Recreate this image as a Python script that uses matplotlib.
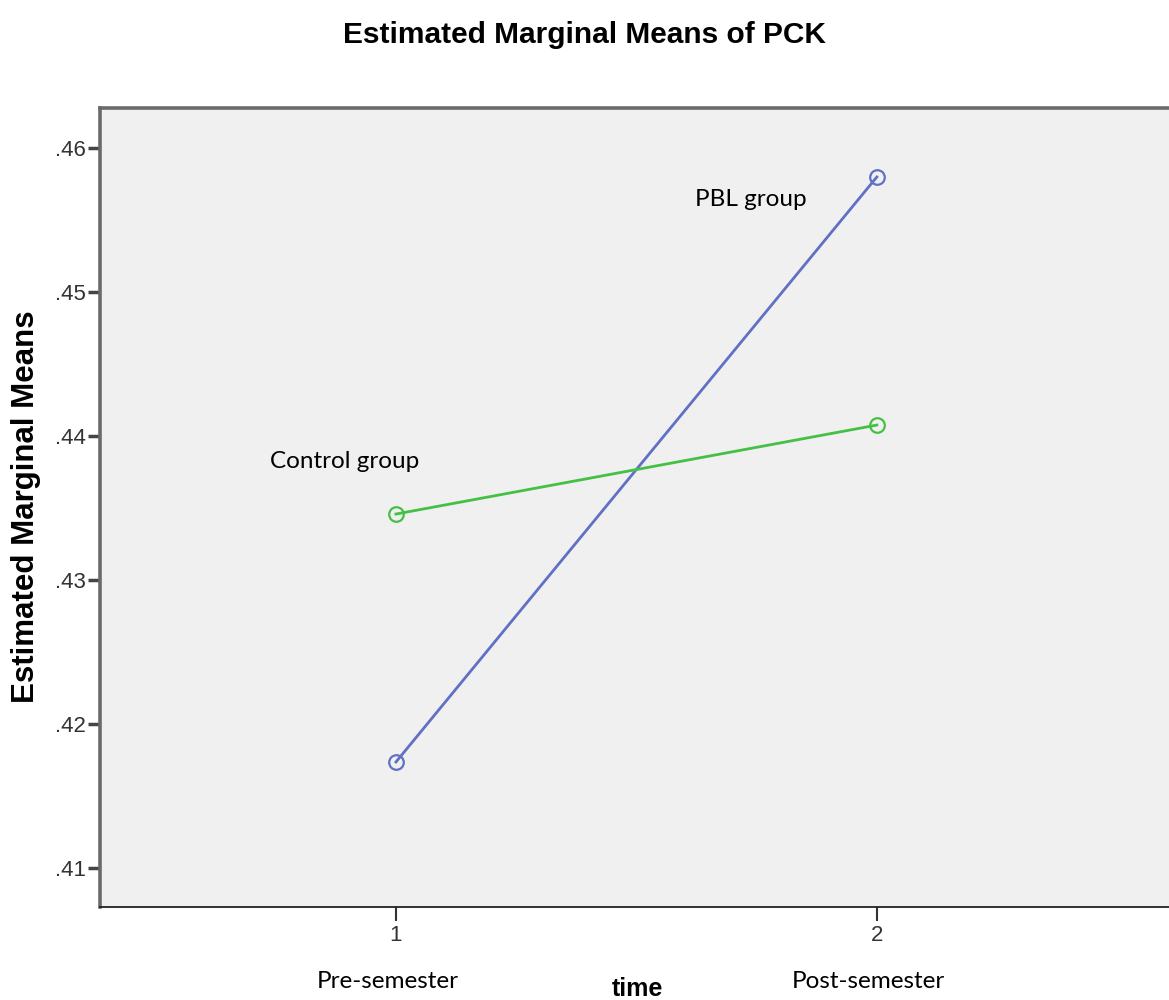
import matplotlib
matplotlib.use("Agg")
import matplotlib.pyplot as plt

times = [1, 2]
time_labels = ["Pre-semester", "Post-semester"]
pbl_means = [0.41736, 0.45799]
control_means = [0.43458, 0.44076]
y_ticks = [0.41, 0.42, 0.43, 0.44, 0.45, 0.46]

fig = plt.figure(figsize=(11.69, 10), dpi=100)
ax = fig.add_axes([100 / 1169, 93 / 1000, 1075 / 1169, 799 / 1000])
ax.set_facecolor("#f0f0f0")

ax.plot(times, pbl_means, color="#6070c4", lw=2, marker="o", markersize=10.5,
        markerfacecolor="none", markeredgewidth=1.6)
ax.plot(times, control_means, color="#44c044", lw=2, marker="o", markersize=10.5,
        markerfacecolor="none", markeredgewidth=1.6)

ax.set_xlim(0.3846, 2.62)
ax.set_ylim(0.40729, 0.46278)
ax.set_xticks(times)
ax.set_xticklabels([str(t) for t in times], fontsize=16, family="Liberation Sans", color="#333333")
ax.set_yticks(y_ticks)
ax.set_yticklabels(["." + f"{v:.2f}".split(".")[1] for v in y_ticks],
                   fontsize=16, family="Liberation Sans", color="#333333")
ax.tick_params(axis="y", direction="out", length=8.6, width=2.5, color="#444444", pad=1.5)
ax.tick_params(axis="x", direction="out", length=10, width=1.5, color="#333333", pad=3)

for side in ["left", "top"]:
    ax.spines[side].set_linewidth(2.6)
    ax.spines[side].set_color("#6a6a6a")
ax.spines["bottom"].set_linewidth(1.3)
ax.spines["bottom"].set_color("#222222")
ax.spines["right"].set_visible(False)

ax.text(1.738, 0.45646, "PBL group", fontsize=17.5, family="Lato", ha="center", va="center")
ax.text(0.894, 0.43826, "Control group", fontsize=17.5, family="Lato", ha="center", va="center")

for t, lab in zip(times, time_labels):
    ax.annotate(lab, xy=(t, 0), xycoords=("data", "axes fraction"), xytext=(-8, -75),
                textcoords="offset pixels", fontsize=17.5, family="Lato", ha="center", va="center")

ax.set_xlabel("time", fontsize=18, fontweight="bold", family="Liberation Sans", va="center")
ax.xaxis.set_label_coords((637 - 100) / 1075, (907 - 989) / 799)
ax.set_ylabel("Estimated Marginal Means", fontsize=22.5, fontweight="bold",
              family="Liberation Sans")
ax.yaxis.set_label_coords((41 - 100) / 1075, (907 - 507) / 799)

fig.suptitle("Estimated Marginal Means of PCK", x=584 / 1169, y=1 - 35 / 1000,
             fontsize=21.5, fontweight="bold", family="Liberation Sans", va="center")

fig.savefig("out.png", dpi=100)
